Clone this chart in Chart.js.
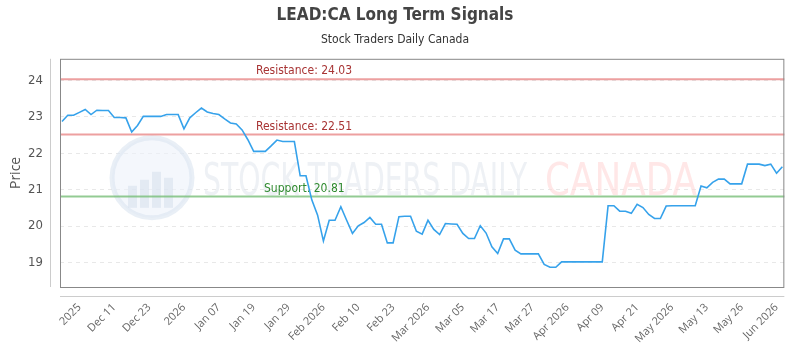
<!DOCTYPE html>
<html>
<head>
<meta charset="utf-8">
<script src="https://cdn.jsdelivr.net/npm/chart.js@4.4.1/dist/chart.umd.min.js"></script>
<style>
  html, body { margin: 0; padding: 0; background: #fff; }
  #wrap { width: 800px; height: 350px; }
</style>
</head>
<body>
<div id="wrap"><canvas id="chart" width="800" height="350"></canvas></div>
<script>
// daily closes
const prices = [
  22.87, 23.04, 23.04, 23.12, 23.20, 23.06, 23.18, 23.17, 23.17, 22.98,
  22.98, 22.97, 22.58, 22.76, 23.01, 23.01, 23.01, 23.01, 23.06, 23.06,
  23.06, 22.67, 22.97, 23.11, 23.24, 23.13, 23.09, 23.06, 22.94, 22.83,
  22.80, 22.64, 22.37, 22.05, 22.05, 22.05, 22.20, 22.36, 22.32, 22.32,
  22.32, 21.38, 21.38, 20.72, 20.30, 19.59, 20.16, 20.16, 20.53, 20.16,
  19.80, 20.01, 20.10, 20.24, 20.05, 20.05, 19.54, 19.54, 20.26, 20.27,
  20.27, 19.86, 19.78, 20.16, 19.91, 19.77, 20.07, 20.06, 20.05, 19.80,
  19.66, 19.66, 20.01, 19.81, 19.43, 19.25, 19.65, 19.65, 19.34, 19.24,
  19.24, 19.24, 19.24, 18.95, 18.87, 18.87, 19.02, 19.02, 19.02, 19.02,
  19.02, 19.02, 19.02, 19.02, 20.56, 20.56, 20.41, 20.41, 20.35, 20.60,
  20.51, 20.32, 20.21, 20.21, 20.55, 20.56, 20.56, 20.56, 20.56, 20.56,
  21.10, 21.05, 21.20, 21.29, 21.29, 21.16, 21.16, 21.16, 21.70, 21.70,
  21.70, 21.66, 21.70, 21.45, 21.63
];

const tickLabels = [
  '2025', 'Dec 11', 'Dec 23', '2026', 'Jan 07', 'Jan 19', 'Jan 29', 'Feb 2026',
  'Feb 10', 'Feb 23', 'Mar 2026', 'Mar 05', 'Mar 17', 'Mar 27', 'Apr 2026',
  'Apr 09', 'Apr 21', 'May 2026', 'May 13', 'May 26', 'Jun 2026'
];
const firstTick = 3;
const tickEvery = 6;

const yTicks = [19, 20, 21, 22, 23, 24];

const levelNames = ['Resistance', 'Resistance', 'Support'];
const levelValues = [24.03, 22.51, 20.81];

const narrow = "'Liberation Sans Narrow', 'DejaVu Sans Condensed', 'Roboto', sans-serif";
const tickFont = "'Open Sans', sans-serif";

// plot frame, offset axis lines and the faint watermark
const framePlugin = {
  id: 'frame',
  beforeDatasetsDraw(chart) {
    const { ctx, chartArea: a } = chart;
    ctx.save();

    // watermark logo
    const cx = a.left + 92, cy = a.top + 119;
    ctx.beginPath();
    ctx.arc(cx, cy, 40, 0, Math.PI * 2);
    ctx.fillStyle = 'rgba(236,242,250,0.6)';
    ctx.fill();
    ctx.lineWidth = 5;
    ctx.strokeStyle = 'rgba(218,228,240,0.6)';
    ctx.stroke();
    ctx.fillStyle = 'rgba(214,224,236,0.55)';
    [[-24, 14], [-12, 8], [0, 0], [12, 6]].forEach(([dx, h]) => {
      ctx.fillRect(cx + dx, cy - 6 + h, 9, 36 - h);
    });

    // watermark text
    ctx.font = "44px 'DejaVu Sans Condensed', " + narrow;
    ctx.textBaseline = 'alphabetic';
    const drawFit = (txt, x, w, color) => {
      const m = ctx.measureText(txt).width;
      ctx.save();
      ctx.translate(x, a.top + 136);
      ctx.scale(w / m, 1);
      ctx.fillStyle = color;
      ctx.fillText(txt, 0, 0);
      ctx.restore();
    };
    drawFit('STOCK TRADERS DAILY', a.left + 143, 324, 'rgba(226,231,238,0.6)');
    drawFit('CANADA', a.left + 485, 152, 'rgba(255,215,215,0.6)');

    // support / resistance levels
    const y = chart.scales.y;
    levelValues.forEach((v, i) => {
      const py = y.getPixelForValue(v);
      const isSup = levelNames[i] === 'Support';
      ctx.beginPath();
      ctx.moveTo(a.left, py);
      ctx.lineTo(a.right, py);
      ctx.lineWidth = 2;
      ctx.strokeStyle = isSup ? 'rgba(120,190,120,0.8)' : 'rgba(230,120,120,0.7)';
      ctx.stroke();
      ctx.font = "12px " + narrow;
      ctx.fillStyle = isSup ? '#2f8a2f' : '#a83434';
      ctx.textBaseline = 'bottom';
      ctx.textAlign = 'left';
      ctx.fillText(levelNames[i] + ': ' + v.toFixed(2), a.left + (isSup ? 204 : 196), py - 2);
    });

    // plot box
    ctx.lineWidth = 1;
    ctx.strokeStyle = '#888';
    ctx.strokeRect(a.left + 0.5, a.top + 0.5, a.right - a.left - 1, a.bottom - a.top);

    // offset axis lines
    ctx.strokeStyle = '#ccc';
    ctx.beginPath();
    ctx.moveTo(a.left - 9.5, a.top);
    ctx.lineTo(a.left - 9.5, a.bottom);
    ctx.moveTo(a.left, a.bottom + 9.5);
    ctx.lineTo(a.right, a.bottom + 9.5);
    ctx.stroke();
    ctx.restore();
  }
};

const ctx = document.getElementById('chart').getContext('2d');
const chart = new Chart(ctx, {
  type: 'line',
  data: {
    datasets: [{
      label: 'Price',
      data: prices.map((v, i) => ({ x: i, y: v })),
      borderColor: '#36a2eb',
      borderWidth: 1.6,
      pointRadius: 0,
      tension: 0,
      fill: false
    }]
  },
  options: {
    responsive: false,
    animation: false,
    layout: { padding: { left: 0, right: 10, top: 0, bottom: 0 } },
    plugins: {
      legend: { display: false },
      tooltip: { enabled: false },
      title: {
        display: true,
        text: 'LEAD:CA Long Term Signals',
        color: '#444',
        font: { family: narrow, size: 17, weight: 'bold' },
        padding: { top: 5, bottom: 5 }
      },
      subtitle: {
        display: true,
        text: 'Stock Traders Daily Canada',
        color: '#333',
        font: { family: narrow, size: 12 },
        padding: { top: 2, bottom: 12 }
      }
    },
    scales: {
      x: {
        type: 'linear',
        min: -0.34,
        max: 124.34,
        grid: { display: false, drawTicks: false },
        border: { display: false },
        afterFit(scale) { scale.height = 63; },
        afterBuildTicks(scale) {
          scale.ticks = tickLabels.map((t, k) => ({ value: firstTick + k * tickEvery }));
        },
        ticks: {
          autoSkip: false,
          minRotation: 45,
          maxRotation: 45,
          padding: 14,
          color: '#666',
          font: { family: tickFont, size: 11 },
          callback(value) {
            return tickLabels[Math.round((value - firstTick) / tickEvery)];
          }
        }
      },
      y: {
        min: 18.33,
        max: 24.59,
        afterFit(scale) { scale.width = 60; },
        afterBuildTicks(scale) {
          scale.ticks = yTicks.map(v => ({ value: v }));
        },
        grid: { color: '#e8e8e8', drawTicks: false },
        border: { display: false, dash: [4, 4] },
        ticks: {
          padding: 17,
          color: '#555',
          font: { family: narrow, size: 13 }
        },
        title: {
          display: true,
          text: 'Price',
          color: '#555',
          font: { family: tickFont, size: 14 },
          padding: { top: 8, bottom: 0 }
        }
      }
    }
  },
  plugins: [framePlugin]
});
</script>
</body>
</html>
